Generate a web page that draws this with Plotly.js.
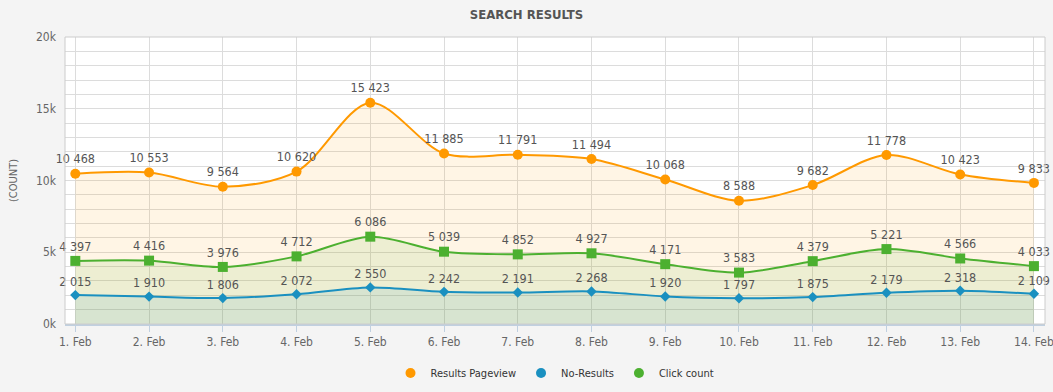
<!DOCTYPE html>
<html><head><meta charset="utf-8">
<script src="https://cdn.plot.ly/plotly-3.0.1.min.js"></script>
<style>html,body{margin:0;padding:0;background:#f4f4f4;}#chart{width:1053px;height:392px;}</style>
</head><body><div id="chart"></div>
<script>
const categories = ["1. Feb","2. Feb","3. Feb","4. Feb","5. Feb","6. Feb","7. Feb","8. Feb","9. Feb","10. Feb","11. Feb","12. Feb","13. Feb","14. Feb"];
const resultsPageview = [10468,10553,9564,10620,15423,11885,11791,11494,10068,8588,9682,11778,10423,9833];
const noResults = [2015,1910,1806,2072,2550,2242,2191,2268,1920,1797,1875,2179,2318,2109];
const clickCount = [4397,4416,3976,4712,6086,5039,4852,4927,4171,3583,4379,5221,4566,4033];
const yTickVals = [0,5000,10000,15000,20000];
const yTickText = ["0k","5k","10k","15k","20k"];

const FONT = "'DejaVu Sans Condensed', 'Liberation Sans Narrow', sans-serif";
const fmt = v => String(v).replace(/\B(?=(\d{3})+(?!\d))/g, " ");

function series(name, vals, color, fill, symbol, size) {
  return {
    type: "scatter", name: name, x: categories, y: vals,
    mode: "lines+markers+text",
    line: {shape: "spline", color: color, width: 2, smoothing: 0.9},
    marker: {symbol: symbol, size: size, color: color},
    fill: "tozeroy", fillcolor: fill,
    text: vals.map(fmt), textposition: "top center",
    textfont: {family: FONT, size: 12.5, color: "#555"},
    showlegend: false, hoverinfo: "x+y+name", cliponaxis: false
  };
}
function legendItem(name, color) {
  return {type: "scatter", name: name, x: [categories[0]], y: [null], mode: "markers",
    marker: {symbol: "circle", size: 10, color: color}, showlegend: true, hoverinfo: "skip"};
}

const data = [
  series("Results Pageview", resultsPageview, "#ff9900", "rgba(255,153,0,0.1)", "circle", 10),
  series("Click count", clickCount, "#4cb030", "rgba(76,176,48,0.1)", "square", 10),
  series("No-Results", noResults, "#1a90c0", "rgba(26,144,192,0.1)", "diamond", 8),
  legendItem("Results Pageview", "#ff9900"),
  legendItem("No-Results", "#1a90c0"),
  legendItem("Click count", "#4cb030")
];

const layout = {
  width: 1053, height: 392,
  paper_bgcolor: "#f4f4f4", plot_bgcolor: "#ffffff",
  margin: {l: 65, r: 8, t: 37, b: 68, autoexpand: false},
  font: {family: FONT, color: "#555"},
  title: {text: "SEARCH RESULTS", font: {family: FONT, size: 13, color: "#555", weight: "bold"},
          x: 0.5, xanchor: "center", y: 1 - 14/392, yanchor: "middle", yref: "container"},
  xaxis: {type: "category", range: [-0.14, 13.15], showgrid: true, gridcolor: "#dcdcdc", automargin: false,
          ticks: "outside", ticklen: 6, tickcolor: "#c0d0e0", showline: true, linecolor: "#c0d0e0", linewidth: 2,
          tickfont: {family: FONT, size: 12, color: "#666"}, zeroline: false, fixedrange: true},
  yaxis: {range: [0, 20000], tickvals: yTickVals, ticktext: yTickText, showgrid: true, gridcolor: "#dcdcdc",
          minor: {dtick: 1000, showgrid: true, gridcolor: "#dcdcdc", ticks: ""}, automargin: false,
          zeroline: false, ticks: "", ticklabelstandoff: 8,
          tickfont: {family: FONT, size: 12, color: "#666"},
          title: {text: "(COUNT)", font: {family: FONT, size: 11, color: "#666"}, standoff: 16}},
  legend: {orientation: "h", x: 0.5, xanchor: "center", y: -49/287, yanchor: "middle",
           font: {family: FONT, size: 11, color: "#333"}, traceorder: "normal", itemclick: false, itemwidth: 30},
  shapes: [{type: "rect", xref: "paper", yref: "paper", x0: 0, x1: 1, y0: 0, y1: 1,
            line: {color: "#cccccc", width: 1}, layer: "above"}]
};
Plotly.newPlot("chart", data, layout, {displayModeBar: false, staticPlot: true});
</script></body></html>
